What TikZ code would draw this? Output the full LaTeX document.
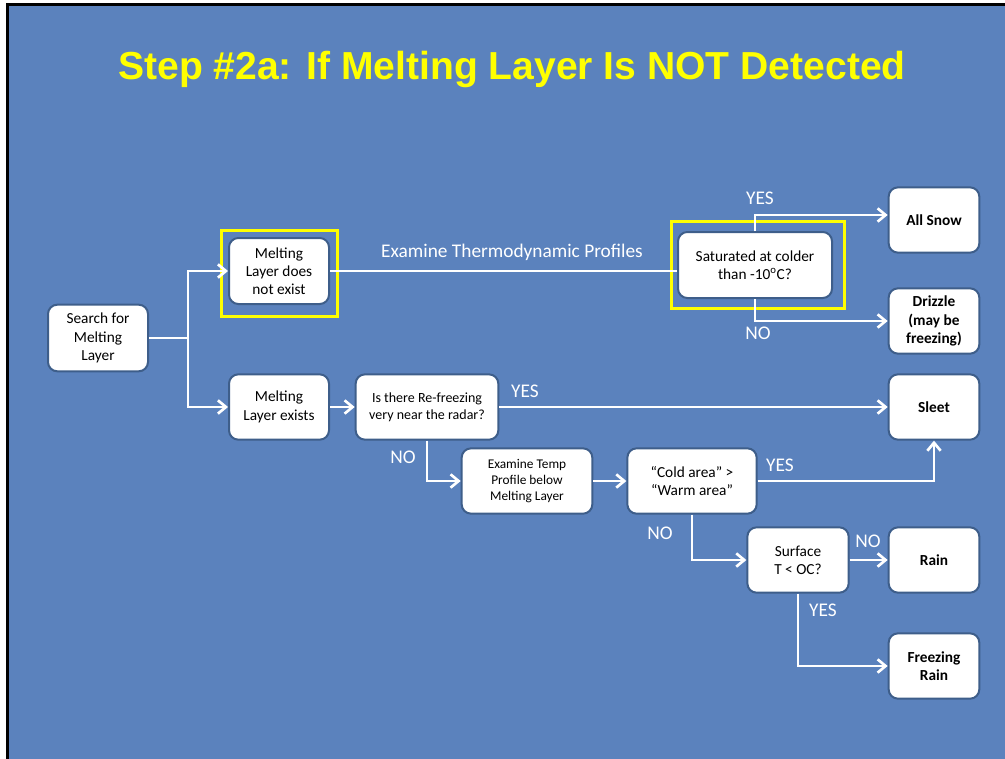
\documentclass[tikz,border=0pt]{standalone}
\usepackage{fontspec}
\setmainfont{Carlito}
\newfontfamily\titlefont{Liberation Sans}
\usetikzlibrary{arrows.meta,fit}
\definecolor{slide}{RGB}{91,130,189}
\definecolor{edge}{RGB}{62,94,138}
\definecolor{hilite}{RGB}{255,255,0}
\tikzset{
  box/.style={draw=edge, fill=white, line width=1.5pt, rounded corners=7pt, align=center, inner sep=1pt, font=\fontsize{11.5}{13.7}\selectfont},
  endbox/.style={box, minimum width=68pt, minimum height=49pt, font=\fontsize{11.5}{13.7}\selectfont\bfseries},
  line/.style={white, line width=2pt},
  flow/.style={line, -{Straight Barb[length=6pt,width=10pt]}},
  lab/.style={white, font=\fontsize{14.5}{16}\selectfont},
  frame/.style={draw=hilite, line width=2.25pt}
}
\begin{document}
\begin{tikzpicture}[x=0.75pt, y=-0.75pt]
\useasboundingbox (0,0) rectangle (1005,759);
\fill[slide] (7.5,5) rectangle (1005,759);
\draw[line width=2.25pt] (7.5,759) -- (7.5,5) -- (1005,5);
\node[anchor=base, hilite, font=\titlefont\bfseries\fontsize{29.3}{34}\selectfont] (title) at (512,80) {Step \#2a: If Melting Layer Is NOT Detected};
% boxes
\node[box, minimum width=75pt, minimum height=50pt] (search) at (98,338) {Search for\\Melting\\Layer};
\node[box, minimum width=75pt, minimum height=49.5pt] (dne) at (279,271) {Melting\\Layer does\\not exist};
\node[box, minimum width=75pt, minimum height=49pt] (exists) at (279,407) {Melting\\Layer exists};
\node[box, minimum width=107pt, minimum height=49pt, font=\fontsize{10.5}{13}\selectfont] (refreeze) at (427,407) {Is there Re-freezing\\very near the radar?};
\node[box, minimum width=98pt, minimum height=49pt, font=\fontsize{10}{11.8}\selectfont] (examine) at (527,481) {Examine Temp\\Profile below\\Melting Layer};
\node[box, minimum width=97pt, minimum height=49pt, font=\fontsize{11.5}{14.2}\selectfont] (cold) at (692,481) {“Cold area” >\\“Warm area”};
\node[box, minimum width=76pt, minimum height=49pt] (surface) at (798,560) {Surface\\T < OC?};
\node[box, minimum width=115.5pt, minimum height=49.5pt] (sat) at (755,265) {Saturated at colder\\than -10\textsuperscript{o}C?};
\node[endbox] (snow) at (934,220) {All Snow};
\node[endbox] (drizzle) at (934,321) {Drizzle\\(may be\\freezing)};
\node[endbox] (sleet) at (934,407) {Sleet};
\node[endbox] (rain) at (934,560) {Rain};
\node[endbox] (frain) at (934,666) {Freezing\\Rain};
% yellow frames
\node[frame, fit=(dne), inner xsep=5.25pt, inner ysep=6.75pt, yshift=-1.5pt] (dneframe) {};
\node[frame, fit=(sat), inner xsep=6.4pt, inner ysep=7.1pt, xshift=1.9pt] (satframe) {};
% connectors
\coordinate (fork) at (188,338);
\draw[line] (search.east) -- (fork);
\draw[flow] (fork) |- (dne.west);
\draw[flow] (fork) |- (exists.west);
\draw[line] (dne.east) -- (dne.east -| sat.west);
\draw[flow] (sat.north) |- ([yshift=3.75pt]snow.west);
\draw[flow] (sat.south) |- (drizzle.west);
\draw[flow] (exists.east) -- (refreeze.west);
\draw[flow] (refreeze.east) -- (sleet.west);
\draw[flow] (refreeze.south) |- (examine.west);
\draw[flow] (examine.east) -- (cold.west);
\draw[flow] (cold.east) -| (sleet.south);
\draw[flow] (cold.south) |- (surface.west);
\draw[flow] (surface.east) -- (rain.west);
\draw[flow] (surface.south) |- (frain.west);
% labels
\node[lab] (thermo) at (512,252) {Examine Thermodynamic Profiles};
\node[lab] (satyes) at (760,198) {YES};
\node[lab] (satno) at (758,333) {NO};
\node[lab] (refyes) at (525,391) {YES};
\node[lab] (refno) at (403,457) {NO};
\node[lab] (coldyes) at (780,465) {YES};
\node[lab] (coldno) at (660,533) {NO};
\node[lab] (surfno) at (868,541) {NO};
\node[lab] (surfyes) at (823,610) {YES};
\end{tikzpicture}
\end{document}
